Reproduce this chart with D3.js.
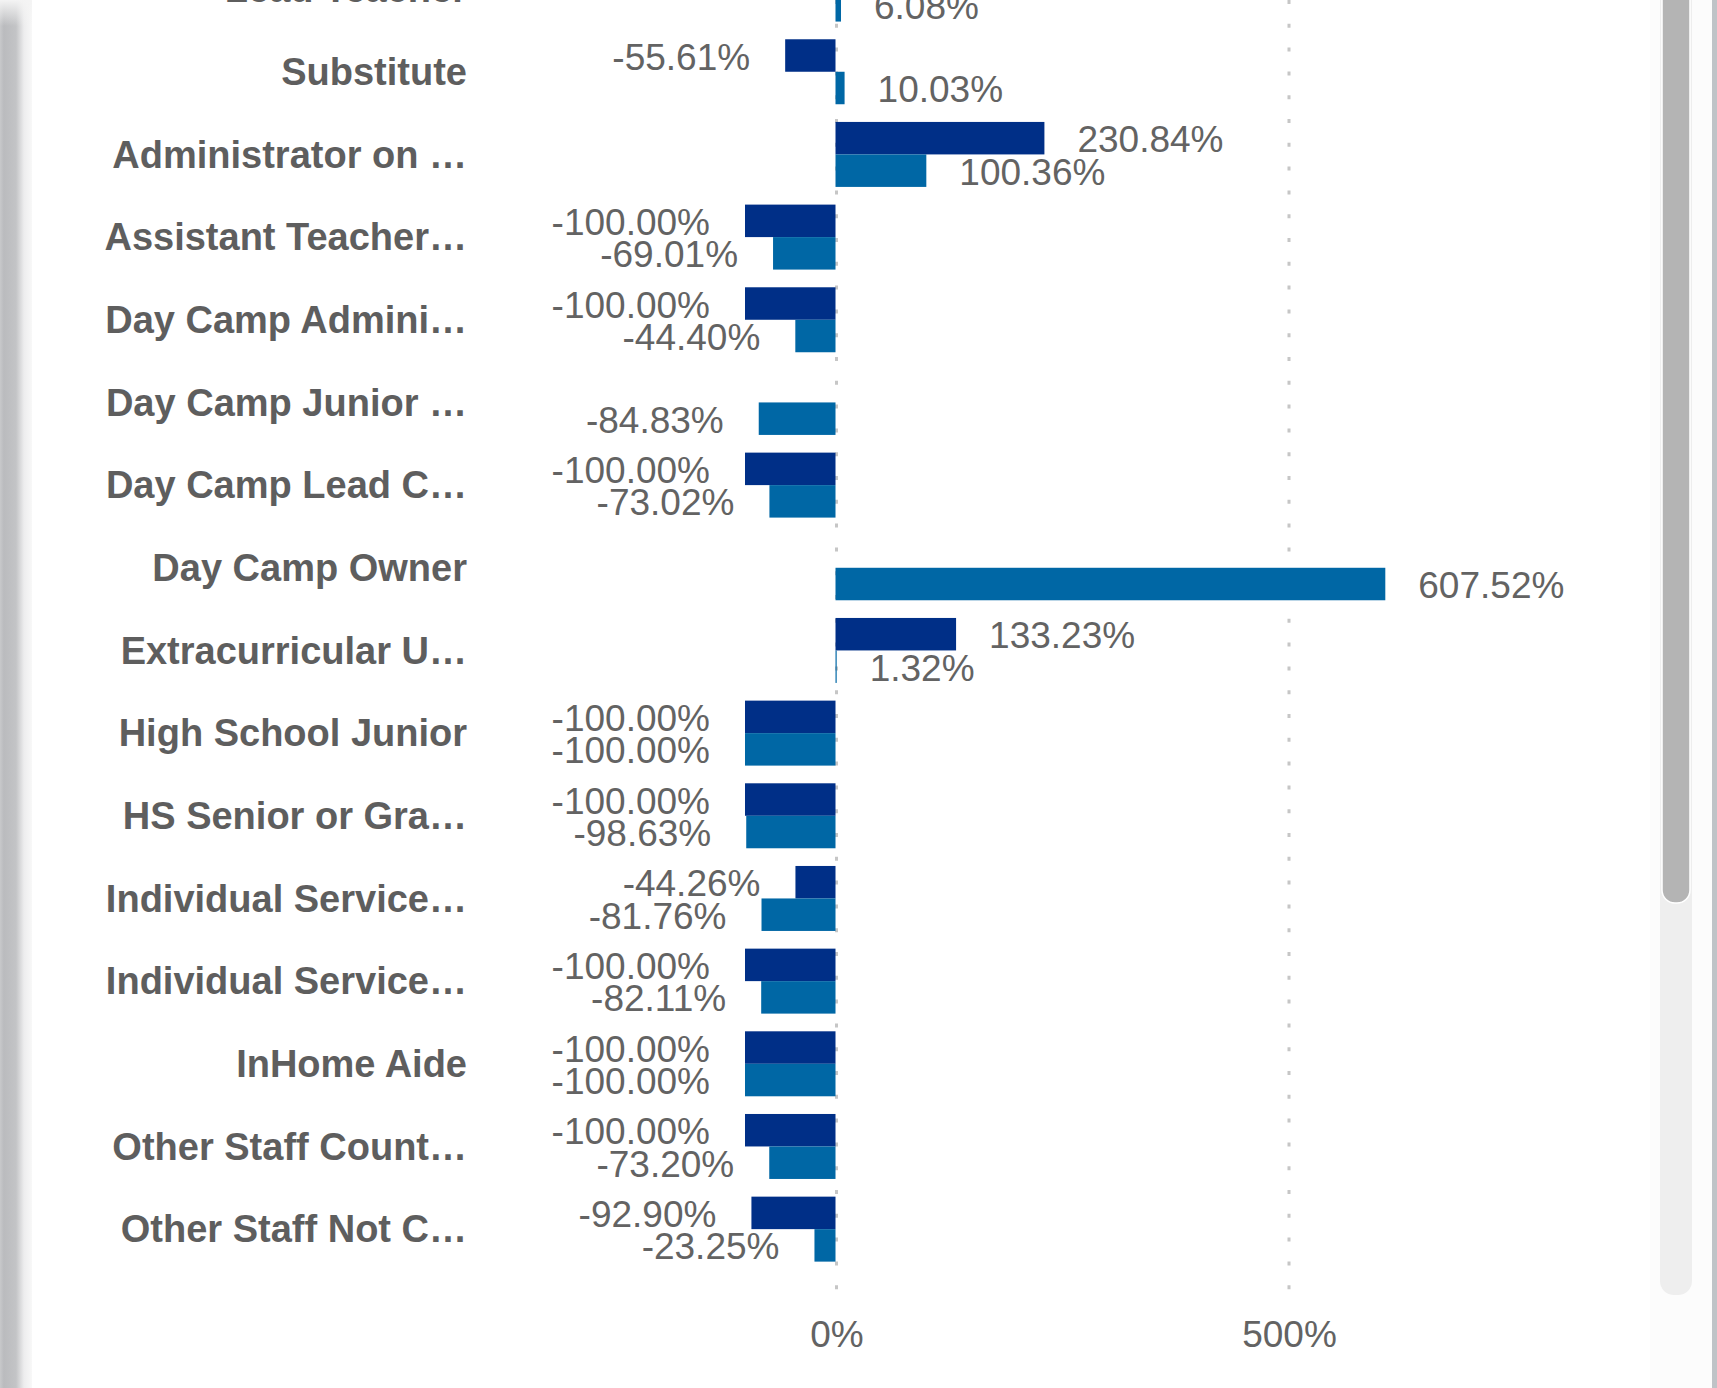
<!DOCTYPE html>
<html>
<head>
<meta charset="utf-8">
<script src="https://cdn.jsdelivr.net/npm/d3@7"></script>
<style>
    html, body {
        margin: 0;
        padding: 0;
        background: #ffffff;
        overflow: hidden;
    }
    .cat {
        font-family: "Liberation Sans", Arial, sans-serif;
        font-weight: bold;
        font-size: 38px;
        fill: #5e5e5e;
    }
    .val, .tick text {
        font-family: "Liberation Sans", Arial, sans-serif;
        font-size: 37px;
        fill: #636363;
    }
</style>
</head>
<body>
<svg id="svg"></svg>
<script>
    // categories as they show (already truncated by the visual)
    const categories = [
        'Lead Teacher',
        'Substitute',
        'Administrator on …',
        'Assistant Teacher…',
        'Day Camp Admini…',
        'Day Camp Junior …',
        'Day Camp Lead C…',
        'Day Camp Owner',
        'Extracurricular U…',
        'High School Junior',
        'HS Senior or Gra…',
        'Individual Service…',
        'Individual Service…',
        'InHome Aide',
        'Other Staff Count…',
        'Other Staff Not C…'
    ];
    // dark series, % change
    const seriesDark = [null, -55.61, 230.84, -100.00, -100.00, null, -100.00, null,
        133.23, -100.00, -100.00, -44.26, -100.00, -100.00, -100.00, -92.90];
    // light series, % change
    const seriesLight = [6.08, 10.03, 100.36, -69.01, -44.40, -84.83, -73.02, 607.52,
        1.32, -100.00, -98.63, -81.76, -82.11, -100.00, -73.20, -23.25];
    const tickValues = [0, 500];

    const W = 1717, H = 1388;
    const svg = d3.select('#svg')
        .attr('width', W)
        .attr('height', H);

    const defs = svg.append('defs');
    const shade = defs.append('linearGradient').attr('id', 'shade');
    [[0, '#c8c9cb'], [0.12, '#babbbe'], [0.5, '#c3c4c6'], [0.75, '#ededee'], [1, '#f8f8f8']]
        .forEach(s => shade.append('stop').attr('offset', s[0]).attr('stop-color', s[1]));
    const topFade = defs.append('linearGradient').attr('id', 'topFade')
        .attr('x1', 0).attr('y1', 0).attr('x2', 0).attr('y2', 1);
    topFade.append('stop').attr('offset', 0).attr('stop-color', '#f4f4f4').attr('stop-opacity', 1);
    topFade.append('stop').attr('offset', 1).attr('stop-color', '#f4f4f4').attr('stop-opacity', 0);

    // page chrome: left shadow, right scrollbar
    svg.append('rect').attr('x', 0).attr('y', 0).attr('width', 32).attr('height', H)
        .attr('fill', 'url(#shade)');
    svg.append('rect').attr('x', 0).attr('y', 0).attr('width', 32).attr('height', 26)
        .attr('fill', 'url(#topFade)');
    svg.append('rect').attr('x', 1650).attr('y', 0).attr('width', 67).attr('height', H)
        .attr('fill', '#fcfcfc');
    svg.append('rect').attr('x', 1712).attr('y', 0).attr('width', 5).attr('height', H)
        .attr('fill', '#bfc3c7');
    svg.append('rect').attr('x', 1660).attr('y', -40).attr('width', 32).attr('height', 1335)
        .attr('rx', 14).attr('fill', '#eeeeee');
    svg.append('rect').attr('x', 1662).attr('y', -40).attr('width', 28).attr('height', 943)
        .attr('rx', 13).attr('fill', '#b4b4b4')
        .attr('stroke', '#ffffff').attr('stroke-width', 1.5);

    const x = d3.scaleLinear()
        .domain([-100, 600])
        .range([745, 1378.5]);

    const idx = d3.range(categories.length);
    const step = 82.67;
    const y = d3.scaleBand()
        .domain(idx)
        .range([-52.25, -52.25 + step * categories.length])
        .paddingInner(0.214)
        .paddingOuter(0.107);
    const ySub = d3.scaleBand()
        .domain(['dark', 'light'])
        .range([0, y.bandwidth()]);

    const colors = {dark: '#002f87', light: '#0067a5'};

    // dotted gridlines
    svg.append('g')
        .selectAll('line')
        .data(tickValues)
        .join('line')
        .attr('x1', d => x(d) + 1)
        .attr('x2', d => x(d) + 1)
        .attr('y1', 0)
        .attr('y2', 1298)
        .attr('stroke', '#c6c6c6')
        .attr('stroke-width', 3)
        .attr('stroke-dasharray', '4,19.8');

    // x axis labels only
    const xAxis = d3.axisBottom(x)
        .tickValues(tickValues)
        .tickSize(0)
        .tickPadding(0)
        .tickFormat(d => d + '%');
    const gX = svg.append('g')
        .attr('transform', 'translate(1,1334)')
        .call(xAxis);
    gX.select('.domain').remove();
    gX.selectAll('text')
        .attr('font-family', null)
        .attr('font-size', null)
        .attr('fill', null)
        .attr('y', 0)
        .attr('dy', '0.35em');
    gX.attr('font-family', null).attr('font-size', null);

    // category labels
    svg.append('g')
        .selectAll('text')
        .data(idx)
        .join('text')
        .attr('class', 'cat')
        .attr('x', 467)
        .attr('y', i => y(i) + y.bandwidth() / 2)
        .attr('dy', '0.35em')
        .attr('text-anchor', 'end')
        .text(i => categories[i]);

    const rows = [];
    idx.forEach(i => {
        if (seriesDark[i] !== null) rows.push({i: i, key: 'dark', v: seriesDark[i]});
        if (seriesLight[i] !== null) rows.push({i: i, key: 'light', v: seriesLight[i]});
    });

    const bars = svg.append('g');
    bars.selectAll('rect')
        .data(rows)
        .join('rect')
        .attr('x', d => x(Math.min(0, d.v)))
        .attr('width', d => Math.abs(x(d.v) - x(0)))
        .attr('y', d => y(d.i) + ySub(d.key))
        .attr('height', ySub.bandwidth())
        .attr('fill', d => colors[d.key]);

    // data labels, plain hyphen for the minus sign
    svg.append('g')
        .selectAll('text')
        .data(rows)
        .join('text')
        .attr('class', 'val')
        .attr('x', d => d.v < 0 ? x(d.v) - 35 : x(d.v) + 33)
        .attr('y', d => y(d.i) + ySub(d.key) + ySub.bandwidth() / 2 + 14)
        .attr('text-anchor', d => d.v < 0 ? 'end' : 'start')
        .text(d => d.v.toFixed(2) + '%');
</script>
</body>
</html>
